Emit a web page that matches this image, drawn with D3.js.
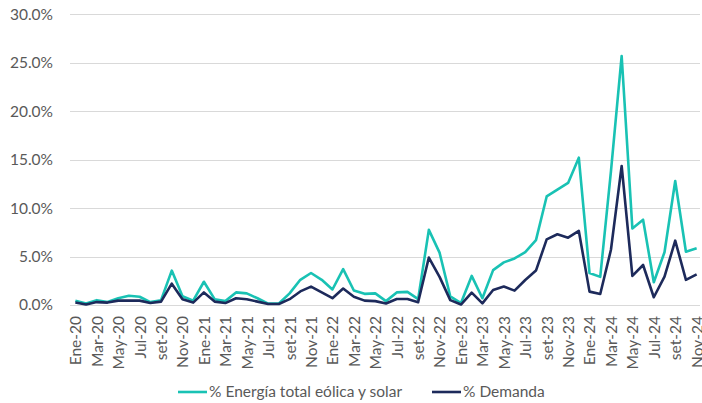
<!DOCTYPE html>
<html>
<head>
<meta charset="utf-8">
<script src="https://cdn.jsdelivr.net/npm/d3@7"></script>
<style>
  body { margin: 0; background: #fff; }
  text { font-family: Lato, "Liberation Sans", sans-serif; fill: #595959; }
</style>
</head>
<body>
<svg id="chart" width="702" height="403"></svg>
<script>
const MONTHS = ['Ene', 'Feb', 'Mar', 'Abr', 'May', 'Jun', 'Jul', 'Ago', 'set', 'Oct', 'Nov', 'Dic'];
const YEARS = ['20', '21', '22', '23', '24'];
const yTicks = [0, 5, 10, 15, 20, 25, 30];

// % Energía total eólica y solar, Ene-20 .. Nov-24
const eolicaSolar = [
    0.45, 0.15, 0.5, 0.3, 0.7, 0.95, 0.85, 0.3, 0.5, 3.55, 0.9, 0.45,
    2.4, 0.6, 0.4, 1.3, 1.2, 0.7, 0.15, 0.15, 1.2, 2.6, 3.3, 2.6,
    1.6, 3.7, 1.5, 1.15, 1.2, 0.4, 1.3, 1.35, 0.6, 7.75, 5.4, 0.9,
    0.2, 3.0, 0.7, 3.6, 4.4, 4.8, 5.45, 6.7, 11.2, 11.9, 12.6, 15.2,
    3.3, 2.9, 13.8, 25.7, 7.9, 8.8, 2.35, 5.45, 12.8, 5.5, 5.85
];
// % Demanda
const demanda = [
    0.25, 0.05, 0.3, 0.25, 0.45, 0.45, 0.45, 0.2, 0.35, 2.2, 0.6, 0.25,
    1.3, 0.35, 0.2, 0.7, 0.6, 0.35, 0.1, 0.1, 0.6, 1.4, 1.9, 1.3,
    0.7, 1.7, 0.85, 0.45, 0.4, 0.15, 0.62, 0.62, 0.28, 4.9, 2.9, 0.5,
    0.05, 1.27, 0.17, 1.55, 1.9, 1.48, 2.58, 3.55, 6.78, 7.3, 6.95, 7.64,
    1.38, 1.13, 5.7, 14.35, 3.0, 4.13, 0.8, 2.92, 6.64, 2.6, 3.17
];

const categories = [];
YEARS.forEach(yy => MONTHS.forEach(m => categories.push(m + '-' + yy)));
categories.length = eolicaSolar.length;
const tickLabels = categories.filter((d, i) => i % 2 === 0);

const series = [
    { name: '% Energía total eólica y solar', values: eolicaSolar, color: '#19C2B4' },
    { name: '% Demanda', values: demanda, color: '#1D2A5B' }
];

const svg = d3.select('#chart');

const x = d3.scalePoint()
    .domain(categories)
    .range([70, 702])
    .padding(0.5);

const y = d3.scaleLinear()
    .domain([0, 30])
    .range([305, 14.3]);

// gridlines
svg.append('g')
    .selectAll('line')
    .data(yTicks)
    .join('line')
    .attr('x1', 70)
    .attr('x2', 700)
    .attr('y1', d => Math.round(y(d)) + 0.5)
    .attr('y2', d => Math.round(y(d)) + 0.5)
    .attr('stroke', '#d9d9d9')
    .attr('stroke-width', 1);

// y axis labels
const yAxis = svg.append('g')
    .attr('transform', 'translate(53,0)')
    .call(d3.axisLeft(y).tickValues(yTicks).tickSize(0).tickPadding(0)
        .tickFormat(d => d.toFixed(1) + '%'));
yAxis.select('.domain').remove();
yAxis.selectAll('text')
    .style('font-size', '15.5px')
    .attr('fill', '#595959');

// x axis labels
const xAxis = svg.append('g')
    .attr('transform', 'translate(0,305)')
    .call(d3.axisBottom(x).tickValues(tickLabels).tickSize(0).tickPadding(0));
xAxis.select('.domain').remove();
xAxis.selectAll('text')
    .style('font-size', '15.5px')
    .attr('fill', '#595959')
    .attr('text-anchor', 'end')
    .attr('dy', '0.35em')
    .attr('transform', 'translate(0,11) rotate(-90)');

// lines
const line = d3.line()
    .x((d, i) => x(categories[i]))
    .y(d => y(d));

svg.append('g')
    .selectAll('path')
    .data(series)
    .join('path')
    .attr('d', d => line(d.values))
    .attr('fill', 'none')
    .attr('stroke', d => d.color)
    .attr('stroke-width', 2.6)
    .attr('stroke-linejoin', 'round');

// legend
const legendPos = [178, 432];
const legend = svg.append('g')
    .selectAll('g')
    .data(series)
    .join('g')
    .attr('transform', (d, i) => 'translate(' + legendPos[i] + ',392)');
legend.append('line')
    .attr('x1', 0)
    .attr('x2', 29)
    .attr('stroke', d => d.color)
    .attr('stroke-width', 2.6);
legend.append('text')
    .attr('x', 31)
    .attr('dy', '0.35em')
    .style('font-size', '15.5px')
    .text(d => d.name);
</script>
</body>
</html>
